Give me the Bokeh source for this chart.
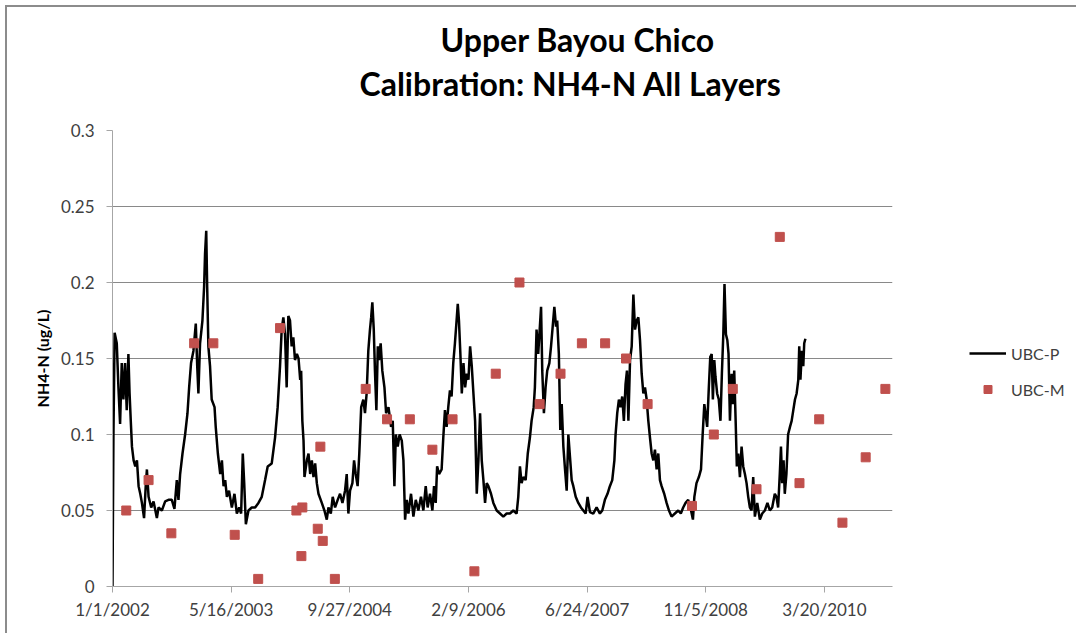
import pandas as pd
from bokeh.plotting import figure
from bokeh.models import (Range1d, FixedTicker, CustomJSTickFormatter, NumeralTickFormatter,
                          Legend, LegendItem, Title)
from bokeh.embed import file_html
from bokeh.resources import INLINE

title_line1 = "Upper Bayou Chico"
title_line2 = "Calibration:  NH4-N  All Layers"
y_label = "NH4-N (ug/L)"
x_tick_labels = ["1/1/2002", "5/16/2003", "9/27/2004", "2/9/2006", "6/24/2007", "11/5/2008", "3/20/2010"]
y_ticks = [0, 0.05, 0.1, 0.15, 0.2, 0.25, 0.3]
start_date = "2002-01-01"
end_date = "2011-01-01"

# UBC-P (model): days after 1/1/2002 and values
p_days = [0, 4, 9, 18, 25, 32, 39, 46, 53, 60, 67, 72, 77, 82, 89, 96, 103, 110, 117, 124, 133, 140, 145, 152,
          163, 173, 187, 194, 208, 222, 236, 250, 261, 271, 278, 285, 295, 306, 316, 323, 331, 341, 351, 357,
          362, 369, 379, 386, 390, 395, 399, 404, 411, 418, 430, 435, 444, 454, 461, 468, 475, 482, 491, 503,
          514, 524, 534, 542, 549, 555, 562, 573, 587, 601, 615, 629, 643, 654, 671, 685, 696, 706, 713, 720,
          727, 734, 741, 748, 755, 762, 769, 777, 784,
          791, 795, 800, 805, 809, 819, 826, 833, 840, 847, 854, 861, 868, 882, 893, 903, 910, 920, 928, 938,
          949, 959, 969, 980, 987, 994, 1001, 1011, 1018, 1025, 1033, 1040, 1048, 1057, 1064, 1071, 1078, 1085,
          1090, 1095, 1101, 1106, 1112, 1118, 1123, 1130, 1137, 1146, 1153, 1163, 1174, 1181, 1188, 1194, 1202,
          1210, 1219, 1226, 1233, 1240, 1247, 1258, 1268, 1278, 1289, 1300, 1310, 1320, 1328, 1338, 1348, 1355,
          1362, 1368, 1376, 1387, 1394, 1401, 1408, 1415, 1422, 1429, 1436, 1443, 1450, 1455, 1460, 1466, 1472,
          1479, 1486, 1493, 1500, 1507, 1514, 1521, 1528, 1535, 1542, 1549, 1556, 1563, 1570, 1577, 1584,
          1595, 1605, 1619, 1633, 1647, 1661, 1675, 1689, 1703, 1710, 1717, 1724, 1731, 1741, 1750, 1759, 1766,
          1775, 1780, 1787, 1794, 1801, 1806, 1811, 1818, 1825, 1832, 1841, 1848, 1855, 1862, 1869, 1874, 1881,
          1887, 1893, 1900, 1907, 1914, 1921, 1928, 1935, 1942, 1952, 1963, 1974, 1984, 1994, 2002, 2012, 2026,
          2040, 2054, 2064, 2075, 2086, 2096, 2106, 2115, 2120, 2127, 2134, 2141, 2148, 2155, 2162, 2168, 2174,
          2181, 2188, 2195, 2202, 2209, 2216, 2223, 2230, 2237, 2244, 2251, 2258, 2265, 2272, 2279, 2286, 2293,
          2300, 2307, 2314, 2325, 2335, 2345, 2356, 2370, 2384,
          2395, 2405, 2415, 2426, 2438, 2446, 2452, 2461, 2471, 2480, 2487, 2494, 2499, 2506, 2513, 2519, 2525,
          2530, 2536, 2541, 2548, 2555, 2562, 2568, 2574, 2579, 2585, 2591, 2596, 2602, 2609, 2614, 2620, 2626,
          2631, 2637, 2644, 2651, 2658, 2665, 2672, 2679, 2686, 2693, 2700, 2707, 2717, 2728, 2738, 2749, 2760,
          2770, 2780, 2791, 2798, 2805, 2812, 2817, 2822, 2828, 2833, 2840, 2847, 2855, 2862, 2869, 2876, 2883,
          2890, 2894, 2899, 2905, 2911, 2915, 2920]
p_vals = [0.0, 0.10, 0.167, 0.16, 0.131, 0.107, 0.147, 0.123, 0.147, 0.116, 0.153, 0.127, 0.109, 0.092, 0.083,
          0.079, 0.083, 0.066, 0.061, 0.055, 0.045, 0.066, 0.077, 0.059,
          0.052, 0.056, 0.045, 0.052, 0.05, 0.056, 0.057, 0.057, 0.051, 0.07, 0.057, 0.074, 0.0875, 0.10, 0.114,
          0.131, 0.147, 0.155, 0.173, 0.145,
          0.127, 0.16, 0.175, 0.197, 0.219, 0.234, 0.197, 0.158, 0.145, 0.123, 0.118, 0.105, 0.0875, 0.074,
          0.083, 0.066, 0.07, 0.059, 0.063, 0.052,
          0.061, 0.048, 0.052, 0.048, 0.0875, 0.068, 0.041, 0.05, 0.052, 0.052, 0.055, 0.059, 0.07, 0.079, 0.081,
          0.098, 0.118, 0.145, 0.169, 0.177,
          0.166, 0.131, 0.178, 0.175, 0.158, 0.164, 0.149, 0.153, 0.150,
          0.136, 0.142, 0.109, 0.096, 0.072, 0.083, 0.0875, 0.074, 0.083, 0.072, 0.081, 0.068, 0.061, 0.055, 0.05,
          0.044, 0.052, 0.048, 0.059, 0.052,
          0.057, 0.061, 0.055, 0.063, 0.074, 0.048, 0.063, 0.068, 0.083, 0.074, 0.066, 0.0875, 0.118, 0.123, 0.114,
          0.127, 0.155, 0.169,
          0.177, 0.187, 0.169, 0.142, 0.116, 0.158, 0.149, 0.16, 0.142, 0.131, 0.114, 0.118, 0.105, 0.109, 0.066,
          0.10, 0.092,
          0.10, 0.096, 0.083, 0.044, 0.057, 0.048, 0.061, 0.046, 0.057, 0.05, 0.059, 0.05, 0.066, 0.052, 0.061,
          0.05, 0.066,
          0.055, 0.079, 0.074, 0.077, 0.098, 0.116, 0.105, 0.118, 0.129, 0.125, 0.147, 0.16, 0.175, 0.186, 0.175,
          0.153, 0.127,
          0.147, 0.131, 0.14, 0.136, 0.158, 0.145, 0.127, 0.109, 0.061, 0.083, 0.114, 0.083, 0.07, 0.055, 0.068,
          0.066,
          0.061, 0.055, 0.05, 0.048, 0.046, 0.048, 0.048, 0.05, 0.048, 0.059, 0.079, 0.068, 0.072, 0.07, 0.0875,
          0.098, 0.109,
          0.118, 0.131, 0.169, 0.153, 0.171, 0.184, 0.142, 0.114, 0.131, 0.142, 0.147, 0.158, 0.171, 0.184, 0.171,
          0.175, 0.153,
          0.103, 0.12, 0.092, 0.077, 0.063, 0.10, 0.085, 0.07, 0.066, 0.059, 0.055, 0.052, 0.05, 0.048, 0.059,
          0.049, 0.048,
          0.052, 0.048, 0.05, 0.057, 0.061, 0.066, 0.07, 0.083, 0.10, 0.114, 0.123, 0.118, 0.125, 0.109, 0.133,
          0.142, 0.109,
          0.149, 0.158, 0.192, 0.169, 0.175, 0.177, 0.162, 0.14, 0.127, 0.131, 0.123, 0.109, 0.098, 0.0875, 0.083,
          0.09, 0.077,
          0.0875, 0.07, 0.066, 0.061, 0.055, 0.05, 0.046, 0.048, 0.05,
          0.048, 0.052, 0.055, 0.057, 0.05, 0.044, 0.059, 0.068, 0.072, 0.077, 0.10, 0.12, 0.114, 0.105, 0.131,
          0.151, 0.153,
          0.123, 0.149, 0.138, 0.127, 0.123, 0.109, 0.14, 0.166, 0.199, 0.166, 0.162, 0.153, 0.109, 0.14, 0.12,
          0.142, 0.109,
          0.079, 0.0875, 0.072, 0.092, 0.079, 0.074, 0.068, 0.059, 0.052, 0.05, 0.072, 0.046, 0.055, 0.044, 0.048,
          0.05, 0.055,
          0.05, 0.052, 0.061, 0.059, 0.052, 0.074, 0.092, 0.068, 0.083, 0.061, 0.074, 0.10, 0.105, 0.109, 0.116,
          0.123, 0.127,
          0.136, 0.158, 0.136, 0.155, 0.145, 0.16, 0.163]

# UBC-M (measured)
m_dates = ["2002-02-28", "2002-06-02", "2002-09-06", "2002-12-11", "2003-03-02", "2003-05-31", "2003-09-07",
           "2003-12-08", "2004-02-15", "2004-03-07", "2004-03-11", "2004-05-15", "2004-05-26", "2004-06-05",
           "2004-07-26", "2004-12-03", "2005-03-03", "2005-06-07", "2005-09-10", "2005-12-04", "2006-03-06",
           "2006-06-04", "2006-09-12", "2006-12-06", "2007-03-04", "2007-06-02", "2007-09-08", "2007-12-05",
           "2008-03-05", "2008-09-08", "2008-12-09", "2009-02-27", "2009-06-07", "2009-09-13", "2009-12-05",
           "2010-02-26", "2010-06-04", "2010-09-10", "2010-12-02"]
m_vals = [0.05, 0.07, 0.035, 0.16, 0.16, 0.034, 0.005, 0.17, 0.05, 0.02, 0.052, 0.038, 0.092, 0.03, 0.005,
          0.13, 0.11, 0.11, 0.09, 0.11, 0.01, 0.14, 0.2, 0.12, 0.14, 0.16, 0.16, 0.15, 0.12, 0.053, 0.1, 0.13,
          0.064, 0.23, 0.068, 0.11, 0.042, 0.085, 0.13]

t0 = pd.Timestamp(start_date)
p_x = t0 + pd.to_timedelta(p_days, unit="D")
m_x = pd.to_datetime(m_dates)
tick_ms = [pd.to_datetime(s, format="%m/%d/%Y").value // 10**6 for s in x_tick_labels]

FONT = "Lato"
TXT = "#404040"
AXC = "#a6a6a6"

p = figure(frame_width=780, frame_height=456, x_axis_type="datetime",
           x_range=Range1d(t0, pd.Timestamp(end_date)), y_range=Range1d(0, 0.3),
           output_backend="svg", toolbar_location=None,
           min_border_left=105, min_border_right=181, min_border_top=123, min_border_bottom=47)
p.margin = (5, 0, 0, 5)
p.styles = {"border-left": "2px solid #8c8c8c", "border-top": "2px solid #8c8c8c"}
p.outline_line_color = None
p.background_fill_color = "white"
p.border_fill_color = "white"

line_r = p.line(p_x, p_vals, line_color="black", line_width=2.5)
sc_r = p.scatter(m_x, m_vals, marker="square", size=9, fill_color="#C0504D", line_color="#C0504D")

p.add_layout(Title(text=title_line2, align="left", offset=247, text_font=FONT, text_font_size="32px",
                   text_font_style="bold", text_color="black", standoff=56), "above")
p.add_layout(Title(text=title_line1, align="left", offset=328, text_font=FONT, text_font_size="32px",
                   text_font_style="bold", text_color="black", standoff=-50), "above")

xa = p.xaxis[0]
xa.ticker = FixedTicker(ticks=tick_ms)
xa.formatter = CustomJSTickFormatter(code="""
const d = new Date(tick);
return (d.getUTCMonth() + 1) + '/' + d.getUTCDate() + '/' + d.getUTCFullYear();
""")
ya = p.yaxis[0]
ya.ticker = FixedTicker(ticks=y_ticks)
ya.formatter = NumeralTickFormatter(format="0.[00]")
ya.axis_label = y_label
ya.axis_label_text_font = FONT
ya.axis_label_text_font_style = "bold"
ya.axis_label_text_font_size = "16px"
ya.axis_label_text_color = "black"
ya.axis_label_standoff = 6

for ax in (xa, ya):
    ax.axis_line_color = AXC
    ax.major_tick_line_color = AXC
    ax.major_tick_out = 6
    ax.major_tick_in = 0
    ax.minor_tick_line_color = None
    ax.major_label_text_font = FONT
    ax.major_label_text_font_size = "17px"
    ax.major_label_text_color = TXT
xa.major_label_standoff = 6
ya.major_label_standoff = 12

p.xgrid.visible = False
p.ygrid.grid_line_color = "#898989"
p.ygrid.grid_line_width = 1

legend = Legend(items=[LegendItem(label="UBC-P", renderers=[line_r]),
                       LegendItem(label="UBC-M", renderers=[sc_r])],
                location=(77, 187), border_line_color=None, background_fill_alpha=0,
                label_text_font=FONT, label_text_font_size="16px", label_text_color=TXT,
                glyph_width=37, glyph_height=20, label_height=20, spacing=16,
                padding=0, margin=0, label_standoff=5)
p.add_layout(legend, "right")

open("out.html", "w").write(file_html(p, INLINE))
